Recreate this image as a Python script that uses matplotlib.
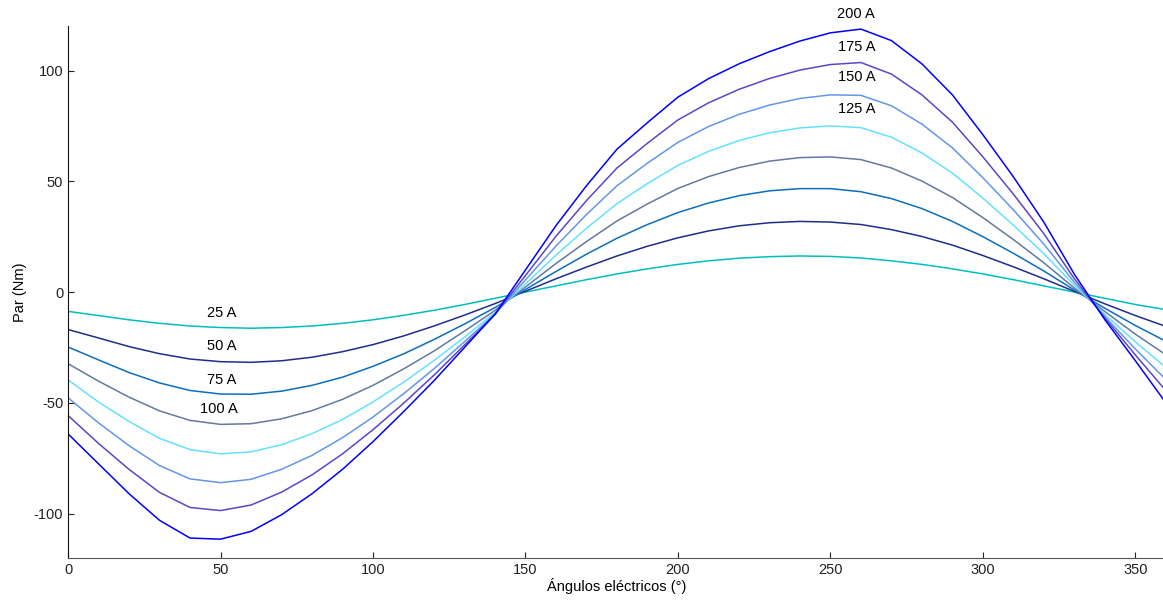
import matplotlib.pyplot as plt

plt.rcParams['font.family'] = ['Liberation Sans', 'DejaVu Sans']
plt.rcParams['axes.unicode_minus'] = False

# electrical angle (deg), sampled every 10 deg
angles = list(range(0, 361, 10))

torque_25 = [-8.7, -10.6, -12.5, -14.1, -15.3, -16.0, -16.3, -16.0, -15.3, -14.1, -12.5, -10.5, -8.2,
             -5.6, -2.8, 0.0, 2.8, 5.6, 8.2, 10.5, 12.5, 14.1, 15.3, 16.0, 16.3, 16.1, 15.4, 14.1,
             12.5, 10.5, 8.2, 5.6, 2.8, 0.0, -2.8, -5.6, -7.9]
torque_50 = [-16.9, -20.7, -24.6, -27.8, -30.2, -31.4, -31.7, -31.0, -29.4, -26.9, -23.7, -19.8, -15.3,
             -10.4, -5.2, 0.4, 6.0, 11.3, 16.3, 20.7, 24.5, 27.6, 29.9, 31.3, 31.9, 31.6, 30.5, 28.2,
             25.1, 21.2, 16.5, 11.4, 6.0, 0.3, -5.3, -10.6, -15.5]
torque_75 = [-24.8, -30.6, -36.3, -41.0, -44.4, -46.0, -46.1, -44.7, -42.1, -38.4, -33.5, -27.9, -21.4,
             -14.4, -7.0, 1.2, 9.3, 17.1, 24.3, 30.5, 35.9, 40.2, 43.5, 45.7, 46.7, 46.7, 45.3, 42.2,
             37.7, 31.9, 25.0, 17.5, 9.5, 0.9, -7.3, -15.1, -22.2]
torque_100 = [-32.3, -40.2, -47.4, -53.6, -57.9, -59.7, -59.4, -57.2, -53.5, -48.4, -42.1, -34.7, -26.6,
              -17.6, -8.3, 2.3, 12.9, 22.8, 32.1, 39.8, 46.8, 52.1, 56.2, 59.1, 60.7, 61.0, 59.8, 56.0,
              50.1, 42.7, 33.6, 23.7, 13.2, 1.8, -8.8, -19.0, -28.3]
torque_125 = [-39.6, -49.6, -58.4, -66.0, -71.1, -73.0, -72.1, -68.9, -63.9, -57.5, -49.6, -40.7, -30.9,
              -20.3, -9.3, 3.7, 16.7, 28.8, 39.9, 49.0, 57.2, 63.5, 68.4, 71.9, 74.1, 75.0, 74.2, 69.9,
              62.8, 53.7, 42.4, 30.2, 17.3, 3.0, -10.1, -22.5, -34.0]
torque_150 = [-47.7, -59.0, -69.3, -78.3, -84.3, -86.0, -84.5, -80.0, -73.7, -65.7, -56.4, -45.9, -34.6,
              -22.4, -9.9, 5.5, 20.8, 35.0, 48.0, 58.2, 67.6, 74.7, 80.2, 84.4, 87.4, 89.0, 88.8, 84.1,
              75.8, 65.1, 51.6, 37.1, 21.6, 4.4, -11.1, -25.7, -39.5]
torque_175 = [-55.7, -68.3, -80.0, -90.4, -97.2, -98.6, -96.1, -90.3, -82.5, -73.0, -62.1, -50.2, -37.5,
              -23.9, -10.1, 7.5, 25.2, 41.3, 56.0, 67.2, 77.7, 85.4, 91.5, 96.4, 100.2, 102.7, 103.6, 98.4,
              89.0, 76.7, 61.0, 44.2, 26.3, 6.0, -11.7, -28.4, -44.5]
torque_200 = [-64.0, -77.5, -91.0, -103.0, -111.0, -111.5, -108.0, -100.5, -91.0, -80.0, -67.5, -54.0, -40.0,
              -25.0, -10.0, 10.0, 30.0, 48.0, 64.5, 76.5, 88.0, 96.3, 103.0, 108.5, 113.3, 117.0, 118.7, 113.5,
              103.0, 89.0, 71.0, 52.0, 31.5, 8.0, -12.5, -31.0, -50.0]

series = [torque_25, torque_50, torque_75, torque_100,
          torque_125, torque_150, torque_175, torque_200]
colors = ['#00BEBE', '#1E2D8C', '#0A6EBE', '#6478A0',
          '#64E1FF', '#6496E6', '#5A46C8', '#0000FF']
labels = ['25 A', '50 A', '75 A', '100 A', '125 A', '150 A', '175 A', '200 A']
# where each label sits (angle, torque)
label_pos = [(50.5, -9.5), (50.5, -24.4), (50.5, -39.7), (49.5, -52.8),
             (258.5, 82.6), (258.5, 97.1), (258.5, 110.6), (258.5, 125.5)]

fig = plt.figure(figsize=(11.63, 6.05), dpi=100)
ax = fig.add_axes([0.0585, 0.0777, 0.944, 0.879])

for values, color in zip(series, colors):
    ax.plot(angles, values, color=color, linewidth=1.1)

for text, (x, y) in zip(labels, label_pos):
    ax.text(x, y, text, ha='center', va='center', fontsize=10.5, clip_on=False)

ax.set_xlim(0, 360)
ax.set_ylim(-120, 120)
ax.set_xticks([0, 50, 100, 150, 200, 250, 300, 350])
ax.set_yticks([-100, -50, 0, 50, 100])
ax.tick_params(direction='in', length=4, labelsize=10.5, colors='#222222')
ax.spines['top'].set_visible(False)
ax.spines['right'].set_visible(False)
ax.spines['left'].set_color('#111111')
ax.spines['bottom'].set_color('#555555')
ax.set_xlabel('Ángulos eléctricos (°)', fontsize=10.5, labelpad=1)
ax.set_ylabel('Par (Nm)', fontsize=10.5, labelpad=5)

fig.savefig('out.png', dpi=100)
